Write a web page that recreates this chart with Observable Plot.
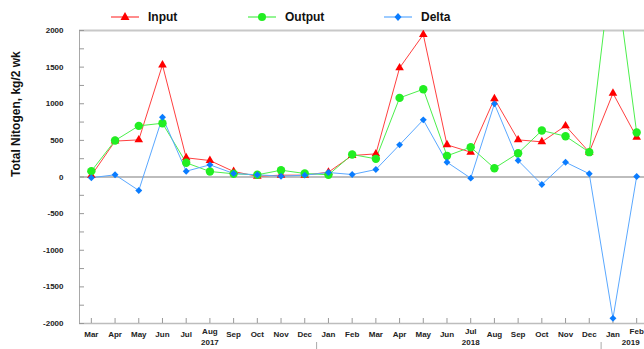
<!DOCTYPE html>
<html><head><meta charset="utf-8">
<script src="https://cdn.jsdelivr.net/npm/d3@7"></script>
<script src="https://cdn.jsdelivr.net/npm/@observablehq/plot@0.6"></script>
<style>
body{margin:0;background:#fff;font-family:"Liberation Sans",Arial,sans-serif;}
#wrap{position:relative;width:644px;height:349px;overflow:hidden;}
#legend{position:absolute;top:7px;left:0;width:644px;height:20px;}
.item{position:absolute;top:0;height:20px;display:flex;align-items:center;font-weight:bold;font-size:12px;color:#111;}
.item svg{margin-right:9px;}
</style></head><body><div id="wrap"><div id="legend"></div></div>
<script>
const months = ["Mar","Apr","May","Jun","Jul","Aug","Sep","Oct","Nov","Dec","Jan","Feb","Mar","Apr","May","Jun","Jul","Aug","Sep","Oct","Nov","Dec","Jan","Feb"];
const input  = [20,490,507,1530,262,225,75,10,25,25,66,293,316,1490,1944,439,339,1067,507,480,698,339,1143,543];
const output = [80,498,698,734,194,75,44,30,93,48,30,307,248,1080,1198,289,407,120,325,634,557,339,3050,607];
const delta  = [-10,30,-184,816,79,166,48,30,11,25,61,34,102,439,780,202,-16,999,225,-102,202,44,-1930,7];
const years = ["2017","2018","2019"];
const yearAt = [5,16,23];
const yearBreaks = [9.5,21.5];
const seriesNames = ["Input","Output","Delta"];

const rows = months.map((m,i)=>({i, m, input: input[i], output: output[i], delta: delta[i]}));
const yearRows = years.map((y,k)=>({y, i: yearAt[k]}));
const plainIdx = d3.range(24).filter(i=>!yearAt.includes(i));
const redL="#ff4040", redM="#ff0000", grnL="#4cef4c", grnM="#22ee22", bluL="#5aa8ff", bluM="#0a7cff";
const bold = {fontWeight:"bold", fontSize:8, fill:"#222"};

const chart = Plot.plot({
  width:644, height:349, marginTop:30, marginBottom:26, marginLeft:79, marginRight:0,
  style:{fontFamily:"Liberation Sans, Arial, sans-serif", background:"#fff"},
  x:{domain:[-0.5,23.33], axis:null},
  y:{domain:[-2000,2000], axis:null},
  marks:[
    Plot.ruleY([0],{stroke:"#bdbdbd",strokeWidth:2}),
    Plot.ruleY([2000],{stroke:"#c8c8c8",strokeWidth:2}),
    Plot.ruleY([-2000],{stroke:"#bdbdbd",strokeWidth:1.5}),
    Plot.ruleX([-0.5],{stroke:"#a8a8a8",strokeWidth:1}),
    Plot.axisY(d3.range(-2000,2001,250),{tickSize:-5, tickFormat:()=>"", stroke:"#999", label:null}),
    Plot.axisY(d3.range(-2000,2001,500),{tickSize:0, tickPadding:16, tickFormat:d=>String(d), ...bold, label:null}),
    Plot.axisX(d3.range(24),{tickSize:-5, tickFormat:()=>"", stroke:"#999", label:null}),
    Plot.axisX(plainIdx,{tickSize:0, tickPadding:8, tickFormat:i=>months[i], ...bold, label:null}),
    Plot.axisX(yearAt,{tickSize:0, tickPadding:5, tickFormat:i=>months[i], ...bold, label:null}),
    Plot.axisX(yearBreaks,{tickSize:7, dy:19, tickFormat:()=>"", stroke:"#aaa", label:null}),
    Plot.text(yearRows.slice(0,2),{x:"i", frameAnchor:"bottom", dy:21, text:"y", ...bold}),
    Plot.text(yearRows.slice(2),{x:"i", frameAnchor:"bottom", dy:21, dx:-6, text:"y", ...bold}),
    Plot.text(["Total Nitogen, kg/2 wk"],{frameAnchor:"left", dx:-63, rotate:-90, fontWeight:"bold", fontSize:12, fill:"#111"}),
    Plot.line(rows,{x:"i", y:"input", stroke:redL, strokeWidth:1, clip:true}),
    Plot.line(rows,{x:"i", y:"output", stroke:grnL, strokeWidth:1, clip:true}),
    Plot.line(rows,{x:"i", y:"delta", stroke:bluL, strokeWidth:1, clip:true}),
    Plot.dot(rows,{x:"i", y:"input", symbol:"triangle", r:3.2, fill:redM, clip:true}),
    Plot.dot(rows,{x:"i", y:"output", symbol:"circle", r:4.2, fill:grnM, clip:true}),
    Plot.dot(rows,{x:"i", y:"delta", symbol:"diamond2", r:3.1, fill:bluM, clip:true})
  ]
});
document.getElementById("wrap").prepend(chart);

const legendDefs = [
  {name:seriesNames[0], left:111, line:redL, shape:`<path d="M14,2 L18.5,10 L9.5,10 Z" fill="${redM}"/>`},
  {name:seriesNames[1], left:248, line:grnL, shape:`<circle cx="14" cy="7" r="4" fill="${grnM}"/>`},
  {name:seriesNames[2], left:384, line:bluL, shape:`<path d="M14,3 L17.5,7 L14,11 L10.5,7 Z" fill="${bluM}"/>`}
];
const lg = document.getElementById("legend");
legendDefs.forEach(d=>{
  const el = document.createElement("div");
  el.className="item"; el.style.left=d.left+"px";
  el.innerHTML = `<svg width="28" height="14"><line x1="0" y1="7" x2="28" y2="7" stroke="${d.line}" stroke-width="1.2"/>${d.shape}</svg><span>${d.name}</span>`;
  lg.appendChild(el);
});
</script></body></html>
